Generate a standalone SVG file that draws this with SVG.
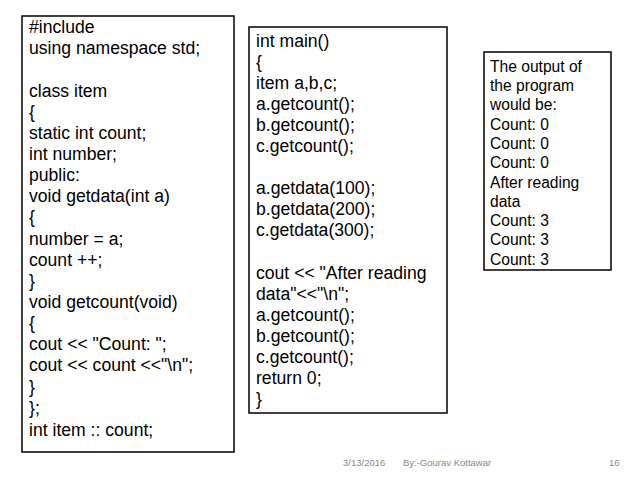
<svg xmlns="http://www.w3.org/2000/svg" width="638" height="479" viewBox="0 0 638 479">
<style>
.b{fill:#fff;stroke:#000;stroke-width:1.5}
.t{font-family:"Liberation Sans",Arial,sans-serif;font-size:17.6px;fill:#000}
.s{font-family:"Liberation Sans",Arial,sans-serif;font-size:15.6px;fill:#000}
.f{font-family:"Liberation Sans",Arial,sans-serif;font-size:9.5px;fill:#888}
</style>
<rect width="638" height="479" fill="#fff"/>
<g id="code1">
<rect class="b" x="22" y="16" width="212" height="436"/>
<text class="t" x="29">
<tspan x="29" y="33">#include</tspan>
<tspan x="29" y="54">using namespace std;</tspan>
<tspan x="29" y="97">class item</tspan>
<tspan x="29" y="118">{</tspan>
<tspan x="29" y="139">static int count;</tspan>
<tspan x="29" y="160">int number;</tspan>
<tspan x="29" y="181">public:</tspan>
<tspan x="29" y="202">void getdata(int a)</tspan>
<tspan x="29" y="223">{</tspan>
<tspan x="29" y="245">number = a;</tspan>
<tspan x="29" y="266">count ++;</tspan>
<tspan x="29" y="287">}</tspan>
<tspan x="29" y="308">void getcount(void)</tspan>
<tspan x="29" y="329">{</tspan>
<tspan x="29" y="350">cout &lt;&lt; "Count: ";</tspan>
<tspan x="29" y="371">cout &lt;&lt; count &lt;&lt;"\n";</tspan>
<tspan x="29" y="393">}</tspan>
<tspan x="29" y="414">};</tspan>
<tspan x="29" y="436">int item :: count;</tspan>
</text>
</g>
<g id="code2">
<rect class="b" x="249" y="27" width="198" height="386"/>
<text class="t">
<tspan x="256" y="47">int main()</tspan>
<tspan x="256" y="68">{</tspan>
<tspan x="256" y="89">item a,b,c;</tspan>
<tspan x="256" y="110">a.getcount();</tspan>
<tspan x="256" y="131">b.getcount();</tspan>
<tspan x="256" y="152">c.getcount();</tspan>
<tspan x="256" y="194">a.getdata(100);</tspan>
<tspan x="256" y="215">b.getdata(200);</tspan>
<tspan x="256" y="236">c.getdata(300);</tspan>
<tspan x="256" y="279">cout &lt;&lt; "After reading</tspan>
<tspan x="256" y="300">data"&lt;&lt;"\n";</tspan>
<tspan x="256" y="321">a.getcount();</tspan>
<tspan x="256" y="342">b.getcount();</tspan>
<tspan x="256" y="363">c.getcount();</tspan>
<tspan x="256" y="384">return 0;</tspan>
<tspan x="256" y="405">}</tspan>
</text>
</g>
<g id="output">
<rect class="b" x="484" y="52" width="127" height="218"/>
<text class="s">
<tspan x="490" y="72">The output of</tspan>
<tspan x="490" y="91">the program</tspan>
<tspan x="490" y="110">would be:</tspan>
<tspan x="490" y="130">Count: 0</tspan>
<tspan x="490" y="149">Count: 0</tspan>
<tspan x="490" y="168">Count: 0</tspan>
<tspan x="490" y="188">After reading</tspan>
<tspan x="490" y="207">data</tspan>
<tspan x="490" y="226">Count: 3</tspan>
<tspan x="490" y="245">Count: 3</tspan>
<tspan x="490" y="265">Count: 3</tspan>
</text>
</g>
<g id="footer">
<text class="f" x="343" y="466">3/13/2016</text>
<text class="f" x="403" y="466">By:-Gourav Kottawar</text>
<text class="f" x="609" y="466">16</text>
</g>
<g id="connectors"/>
</svg>
